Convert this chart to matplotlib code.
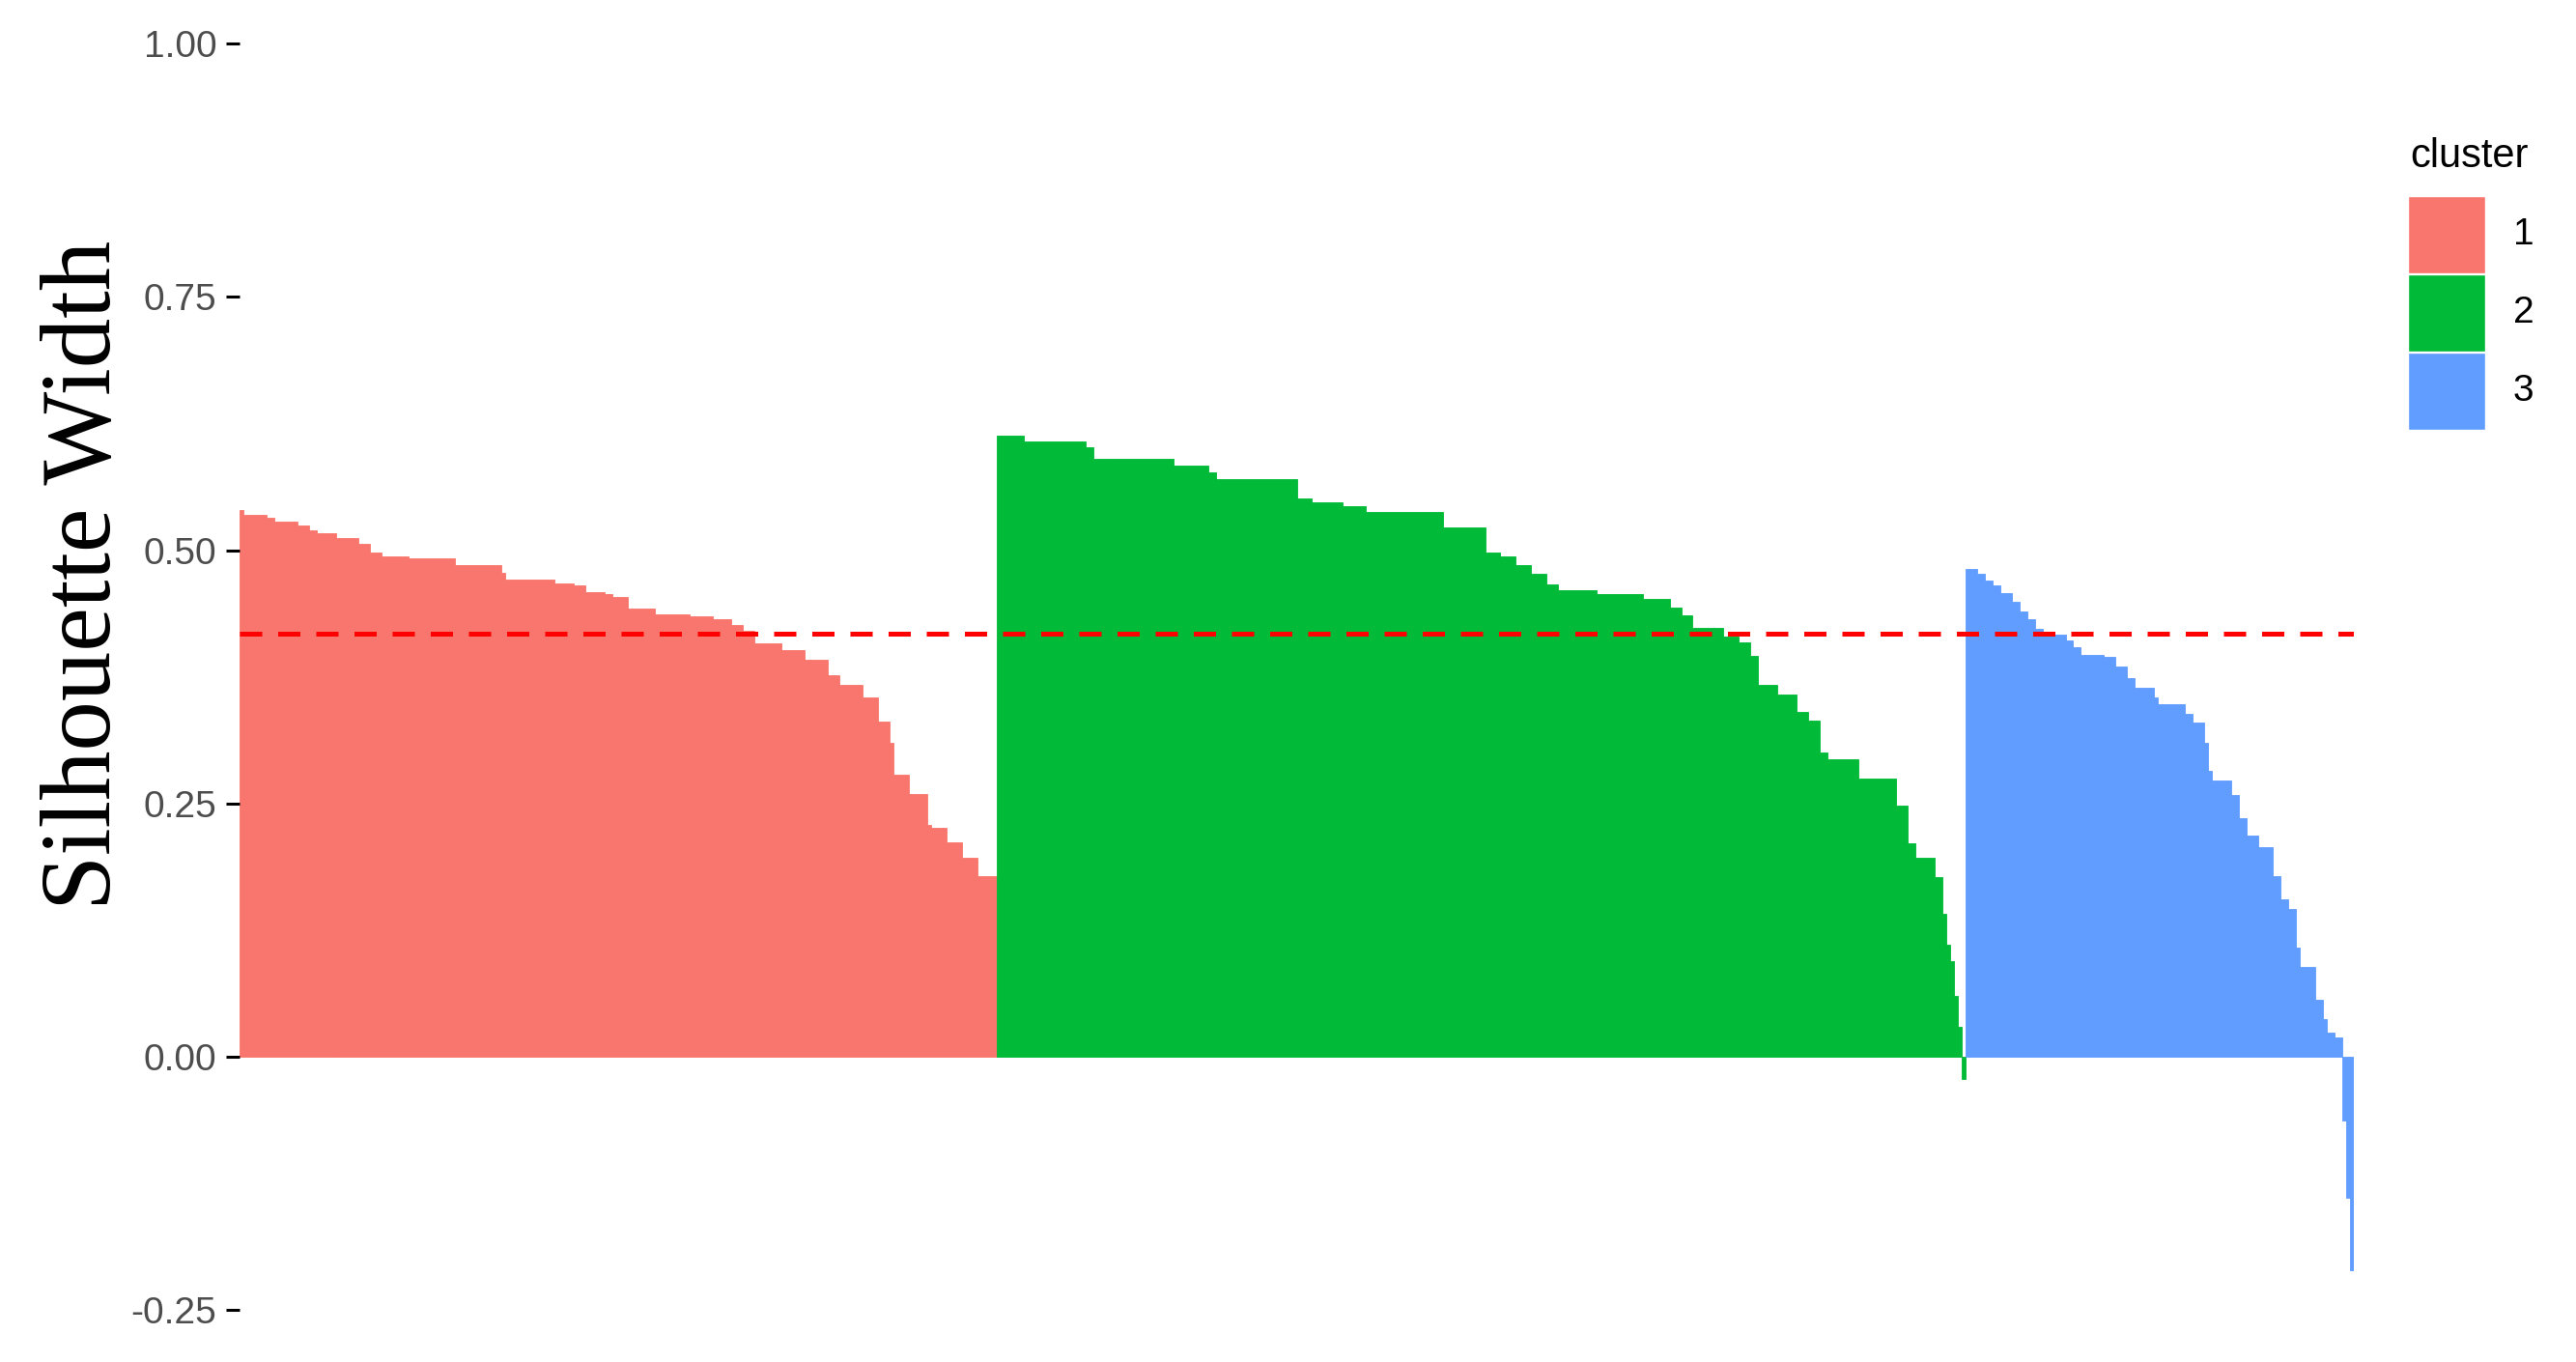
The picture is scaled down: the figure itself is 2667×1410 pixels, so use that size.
import matplotlib.pyplot as plt
import numpy as np
from matplotlib.patches import Rectangle

# silhouette widths read off the picture, stored as (value, number of observations)
# runs, already sorted in decreasing order inside each cluster
cluster1_runs = [(0.540, 1), (0.535, 6), (0.532, 2), (0.528, 6), (0.524, 3), (0.520, 2),
                 (0.517, 5), (0.512, 6), (0.506, 3), (0.498, 3), (0.494, 7), (0.4915, 12),
                 (0.4856, 12), (0.478, 1), (0.4707, 13), (0.467, 5), (0.465, 3), (0.459, 5),
                 (0.457, 2), (0.454, 4), (0.442, 7), (0.437, 9), (0.4346, 6), (0.432, 5),
                 (0.426, 3), (0.4206, 3), (0.408, 7), (0.401, 6), (0.392, 6), (0.377, 3),
                 (0.367, 6), (0.355, 4), (0.331, 3), (0.310, 1), (0.278, 4), (0.259, 5),
                 (0.229, 1), (0.226, 4), (0.212, 4), (0.196, 4), (0.178, 5)]
cluster2_runs = [(0.6126, 7), (0.607, 16), (0.602, 2), (0.590, 21), (0.5837, 9), (0.5765, 2),
                 (0.570, 21), (0.551, 4), (0.5476, 8), (0.543, 6), (0.538, 20), (0.5225, 11),
                 (0.498, 4), (0.4936, 4), (0.485, 4), (0.4766, 4), (0.466, 3), (0.4605, 10),
                 (0.4562, 12), (0.452, 7), (0.4435, 3), (0.436, 3), (0.4235, 8), (0.415, 4),
                 (0.4087, 3), (0.396, 2), (0.367, 5), (0.3577, 5), (0.3407, 3), (0.3314, 3),
                 (0.300, 2), (0.294, 8), (0.275, 10), (0.248, 3), (0.211, 2), (0.196, 5),
                 (0.177, 2), (0.141, 1), (0.111, 1), (0.094, 1), (0.060, 1), (0.030, 1),
                 (-0.022, 1)]
cluster3_runs = [(0.4815, 3), (0.477, 2), (0.470, 2), (0.465, 2), (0.458, 3), (0.4486, 2),
                 (0.439, 2), (0.432, 2), (0.4227, 2), (0.417, 6), (0.411, 2), (0.404, 2),
                 (0.397, 6), (0.3945, 3), (0.385, 3), (0.3734, 2), (0.364, 5), (0.3546, 1),
                 (0.3476, 7), (0.338, 2), (0.3297, 3), (0.310, 1), (0.282, 1), (0.2724, 5),
                 (0.258, 2), (0.235, 2), (0.218, 3), (0.2067, 4), (0.1785, 2), (0.155, 2),
                 (0.1456, 2), (0.108, 1), (0.089, 4), (0.056, 2), (0.0376, 1), (0.0235, 2),
                 (0.0188, 2), (-0.063, 1), (-0.139, 1), (-0.211, 1)]
avg_width = 0.418

cluster_labels = ['1', '2', '3']
cluster_colors = ['#F8766D', '#00BA38', '#619CFF']
y_ticks = [-0.25, 0.0, 0.25, 0.50, 0.75, 1.00]
y_tick_labels = ['-0.25', '0.00', '0.25', '0.50', '0.75', '1.00']


def expand(runs):
    return np.concatenate([np.full(n, v) for v, n in runs])


widths = [expand(r) for r in (cluster1_runs, cluster2_runs, cluster3_runs)]
n_total = sum(len(w) for w in widths)

W, H = 2667, 1410
fig = plt.figure(figsize=(W / 100, H / 100), dpi=100)

# axes placed in pixels: x from 248 to 2437, y value v sits at 1094 - 1049*v
ylo, yhi = -0.28, 1.03
top_px = 1094 - 1049 * yhi
bot_px = 1094 - 1049 * ylo
ax = fig.add_axes([248 / W, 1 - bot_px / H, (2437 - 248) / W, (bot_px - top_px) / H])

start = 0
for w, col in zip(widths, cluster_colors):
    x = np.arange(start, start + len(w))
    ax.bar(x, w, width=1.0, color=col, edgecolor=col, linewidth=0.6)
    start += len(w)

ax.axhline(avg_width, color='red', linestyle=(0, (4.6, 3.3)), linewidth=3.6)

ax.set_xlim(-0.5, n_total - 0.5)
ax.set_ylim(ylo, yhi)
ax.set_yticks(y_ticks)
ax.set_yticklabels(y_tick_labels, family='Liberation Sans')
ax.tick_params(axis='y', length=10, width=2.2, color='black', labelcolor='#4D4D4D',
               labelsize=28, pad=7)
ax.set_xticks([])
for s in ax.spines.values():
    s.set_visible(False)

fig.text(89 / W, 1 - 595 / H, 'Silhouette Width', rotation=90, ha='center', va='center',
         family='Liberation Serif', fontsize=74, color='black')

# legend drawn by hand to sit where ggplot put it
fig.text(2495 / W, 1 - 173 / H, 'cluster', ha='left', va='baseline',
         family='Liberation Sans', fontsize=30, color='black')
key_tops = [203, 284, 365]
for lab, col, t in zip(cluster_labels, cluster_colors, key_tops):
    fig.add_artist(Rectangle((2493 / W, 1 - (t + 80) / H), 80 / W, 80 / H,
                             transform=fig.transFigure, facecolor=col, edgecolor='white',
                             linewidth=1))
    fig.text(2602 / W, 1 - (t + 40) / H, lab, ha='left', va='center',
             family='Liberation Sans', fontsize=28, color='black')

fig.savefig('out.png', dpi=100, facecolor='white')
